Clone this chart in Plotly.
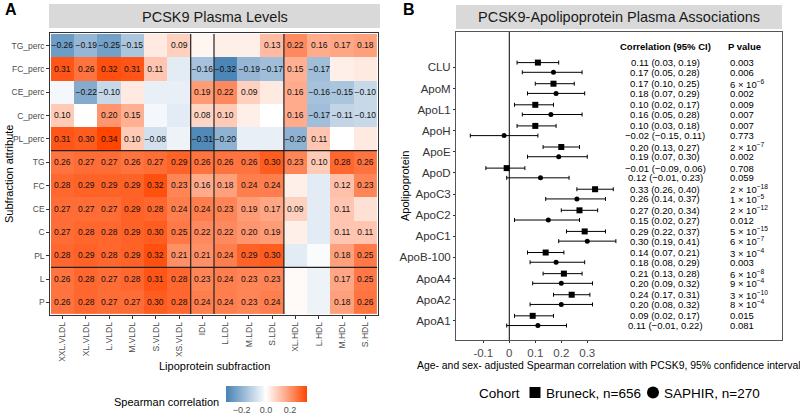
import plotly.graph_objects as go

W, H = 800, 415

# ---------------- Heatmap data ----------------
hm_cols = ["XXL.VLDL", "XL.VLDL", "L.VLDL", "M.VLDL", "S.VLDL", "XS.VLDL", "IDL",
           "L.LDL", "M.LDL", "S.LDL", "XL.HDL", "L.HDL", "M.HDL", "S.HDL"]
hm_rows = ["TG_perc", "FC_perc", "CE_perc", "C_perc", "PL_perc", "TG", "FC", "CE",
           "C", "PL", "L", "P"]
hm_vals = [
    [-0.26, -0.19, -0.25, -0.15, 0.04, 0.09, 0.02, 0.03, 0.03, 0.13, 0.22, 0.16, 0.17, 0.18],
    [0.31, 0.26, 0.32, 0.31, 0.11, -0.05, -0.16, -0.32, -0.19, -0.17, 0.15, -0.17, 0.03, 0.04],
    [-0.02, -0.22, -0.10, 0.04, -0.04, -0.04, 0.19, 0.22, 0.09, 0.04, 0.16, -0.16, -0.15, -0.10],
    [0.10, 0.00, 0.20, 0.15, -0.02, -0.05, 0.08, 0.10, 0.03, 0.00, 0.16, -0.17, -0.11, -0.10],
    [0.31, 0.30, 0.34, 0.10, -0.08, -0.03, -0.31, -0.20, -0.04, -0.04, -0.20, 0.11, 0.00, 0.04],
    [0.26, 0.27, 0.27, 0.26, 0.27, 0.29, 0.26, 0.26, 0.26, 0.30, 0.23, 0.10, 0.28, 0.26],
    [0.28, 0.29, 0.29, 0.29, 0.32, 0.23, 0.16, 0.18, 0.24, 0.24, 0.03, -0.05, 0.12, 0.23],
    [0.27, 0.27, 0.27, 0.29, 0.28, 0.24, 0.24, 0.23, 0.19, 0.17, 0.09, -0.05, 0.11, 0.06],
    [0.27, 0.28, 0.28, 0.29, 0.30, 0.25, 0.22, 0.22, 0.20, 0.19, 0.03, -0.05, 0.11, 0.11],
    [0.28, 0.29, 0.28, 0.29, 0.32, 0.21, 0.21, 0.24, 0.29, 0.30, -0.05, -0.01, 0.18, 0.25],
    [0.26, 0.28, 0.27, 0.28, 0.31, 0.28, 0.23, 0.24, 0.23, 0.23, 0.01, -0.03, 0.17, 0.25],
    [0.26, 0.28, 0.27, 0.27, 0.30, 0.28, 0.24, 0.24, 0.23, 0.24, 0.01, -0.03, 0.18, 0.26],
]
# 1 = value printed in the cell (significant), 0 = blank
hm_shown = [
    [1, 1, 1, 1, 0, 1, 0, 0, 0, 1, 1, 1, 1, 1],
    [1, 1, 1, 1, 1, 0, 1, 1, 1, 1, 1, 1, 0, 0],
    [0, 1, 1, 0, 0, 0, 1, 1, 1, 0, 1, 1, 1, 1],
    [1, 0, 1, 1, 0, 0, 1, 1, 0, 0, 1, 1, 1, 1],
    [1, 1, 1, 1, 1, 0, 1, 1, 0, 0, 1, 1, 0, 0],
    [1, 1, 1, 1, 1, 1, 1, 1, 1, 1, 1, 1, 1, 1],
    [1, 1, 1, 1, 1, 1, 1, 1, 1, 1, 0, 0, 1, 1],
    [1, 1, 1, 1, 1, 1, 1, 1, 1, 1, 1, 0, 1, 0],
    [1, 1, 1, 1, 1, 1, 1, 1, 1, 1, 0, 0, 1, 1],
    [1, 1, 1, 1, 1, 1, 1, 1, 1, 1, 0, 0, 1, 1],
    [1, 1, 1, 1, 1, 1, 1, 1, 1, 1, 0, 0, 1, 1],
    [1, 1, 1, 1, 1, 1, 1, 1, 1, 1, 0, 0, 1, 1],
]
cbar_ticks = [-0.2, 0.0, 0.2]
cbar_ticktext = ["−0.2", "0.0", "0.2"]

# ---------------- Forest data ----------------
proteins = ["CLU", "ApoM", "ApoL1", "ApoH", "ApoE", "ApoD", "ApoC3", "ApoC2",
            "ApoC1", "ApoB-100", "ApoA4", "ApoA2", "ApoA1"]
br_est = [0.11, 0.17, 0.10, 0.10, 0.20, -0.01, 0.33, 0.27, 0.29, 0.14, 0.21, 0.24, 0.09]
br_lo = [0.03, 0.10, 0.02, 0.03, 0.13, -0.09, 0.26, 0.20, 0.22, 0.07, 0.13, 0.17, 0.02]
br_hi = [0.19, 0.25, 0.17, 0.18, 0.27, 0.06, 0.40, 0.34, 0.37, 0.21, 0.28, 0.31, 0.17]
br_p = ["0.003", "6 × 10<sup>−6</sup>", "0.009", "0.007", "2 × 10<sup>−7</sup>", "0.708",
        "2 × 10<sup>−18</sup>", "2 × 10<sup>−12</sup>", "5 × 10<sup>−15</sup>",
        "3 × 10<sup>−4</sup>", "6 × 10<sup>−8</sup>", "3 × 10<sup>−10</sup>", "0.015"]
sa_est = [0.17, 0.18, 0.16, -0.02, 0.19, 0.12, 0.26, 0.15, 0.30, 0.18, 0.20, 0.20, 0.11]
sa_lo = [0.05, 0.07, 0.05, -0.15, 0.07, -0.01, 0.14, 0.02, 0.19, 0.08, 0.09, 0.08, -0.01]
sa_hi = [0.28, 0.29, 0.28, 0.11, 0.30, 0.23, 0.37, 0.27, 0.41, 0.29, 0.32, 0.32, 0.22]
sa_p = ["0.006", "0.002", "0.007", "0.773", "0.002", "0.059", "1 × 10<sup>−5</sup>", "0.012",
        "6 × 10<sup>−7</sup>", "0.003", "9 × 10<sup>−4</sup>", "8 × 10<sup>−4</sup>", "0.081"]
forest_ticks = [-0.1, 0, 0.1, 0.2, 0.3]
forest_ticktext = ["-0.1", "0", "0.1", "0.2", "0.3"]
cohorts = ["Bruneck, n=656", "SAPHIR, n=270"]


def fmt(v):
    s = f"{v:.2f}"
    return s.replace("-", "−")


FONT = "Liberation Sans, Arial, Helvetica, sans-serif"
GREY = "#4D4D4D"


def px(x):
    return x / W


def py(y):
    return 1 - y / H


fig = go.Figure()

# Heatmap
zmin, zmax = -0.33, 0.34
wpos = -zmin / (zmax - zmin)
colorscale = [
    [0.0, "#4682B4"],
    [wpos * 0.5, "#A3BFDA"],
    [wpos, "#FFFFFF"],
    [wpos + (1 - wpos) * 0.5, "#FFA685"],
    [1.0, "#FF4500"],
]
text = [[fmt(v) if s else "" for v, s in zip(r, m)] for r, m in zip(hm_vals, hm_shown)]
fig.add_trace(go.Heatmap(
    z=hm_vals, x=hm_cols, y=hm_rows, text=text, texttemplate="%{text}",
    textfont=dict(size=8.5, color="#111111", family=FONT),
    colorscale=colorscale, zmin=zmin, zmax=zmax, xaxis="x", yaxis="y",
    colorbar=dict(orientation="h", lenmode="pixels", len=81, thicknessmode="pixels",
                  thickness=16, x=px(266.5), xanchor="center", y=py(386),
                  yanchor="top", outlinewidth=0, ticks="", tickvals=cbar_ticks,
                  ticktext=cbar_ticktext, tickangle=0,
                  ticklabelposition="outside bottom", xpad=0, ypad=0,
                  tickfont=dict(size=9, color=GREY, family=FONT)),
    hoverinfo="skip",
))

# Forest plot
pos = [len(proteins) - i for i in range(len(proteins))]
off = 0.23
br_y = [p + off for p in pos]
sa_y = [p - off for p in pos]
fig.add_trace(go.Scatter(
    x=br_est, y=br_y, mode="markers", xaxis="x2", yaxis="y2", showlegend=False,
    marker=dict(symbol="square", size=6, color="black"),
    error_x=dict(type="data", symmetric=False,
                 array=[h - e for h, e in zip(br_hi, br_est)],
                 arrayminus=[e - l for e, l in zip(br_est, br_lo)],
                 color="black", thickness=1, width=2),
))
fig.add_trace(go.Scatter(
    x=sa_est, y=sa_y, mode="markers", xaxis="x2", yaxis="y2", showlegend=False,
    marker=dict(symbol="circle", size=5, color="black"),
    error_x=dict(type="data", symmetric=False,
                 array=[h - e for h, e in zip(sa_hi, sa_est)],
                 arrayminus=[e - l for e, l in zip(sa_est, sa_lo)],
                 color="black", thickness=1, width=2),
))

shapes = []
# separators in heatmap
for xv in [5.5, 6.5, 9.5]:
    shapes.append(dict(type="line", xref="x", yref="y", x0=xv, x1=xv, y0=-0.5, y1=11.5,
                       line=dict(color="#222222", width=1.2)))
for yv in [4.5, 9.5]:
    shapes.append(dict(type="line", xref="x", yref="y", x0=-0.5, x1=13.5, y0=yv, y1=yv,
                       line=dict(color="#222222", width=1.2)))
# zero line in forest
shapes.append(dict(type="line", xref="x2", yref="y2 domain", x0=0, x1=0, y0=0, y1=1,
                   line=dict(color="black", width=1)))
# strips
shapes.append(dict(type="rect", xref="paper", yref="paper", x0=px(49), x1=px(380),
                   y0=py(28), y1=py(4), fillcolor="#D9D9D9", line=dict(width=0), layer="below"))
shapes.append(dict(type="rect", xref="paper", yref="paper", x0=px(456), x1=px(782),
                   y0=py(29), y1=py(5), fillcolor="#D9D9D9", line=dict(width=0), layer="below"))
# legend keys
shapes.append(dict(type="rect", xref="paper", yref="paper", x0=px(529.5), x1=px(540.5),
                   y0=py(398), y1=py(387), fillcolor="black", line=dict(width=0)))
shapes.append(dict(type="circle", xref="paper", yref="paper", x0=px(647), x1=px(659),
                   y0=py(398.5), y1=py(386.5), fillcolor="black", line=dict(width=0)))


def note(text, x, y, size, color="black", xanchor="center", angle=0, xref="paper", yref="paper"):
    return dict(text=text, x=x, y=y, xref=xref, yref=yref, xanchor=xanchor, yanchor="middle",
                textangle=angle, showarrow=False, font=dict(size=size, color=color, family=FONT))


ann = []
ann.append(note("<b>A</b>", px(3), py(9), 16, xanchor="left"))
ann.append(note("<b>B</b>", px(401), py(9), 16, xanchor="left"))
ann.append(note("PCSK9 Plasma Levels", px(214.5), py(16.5), 14.5, "#1A1A1A"))
ann.append(note("PCSK9-Apolipoprotein Plasma Associations", px(619), py(17), 14.5, "#1A1A1A"))
ann.append(note("Subfraction attribute", px(9), py(174), 11, angle=-90))
ann.append(note("Lipoprotein subfraction", px(214.5), py(366), 11))
ann.append(note("Spearman correlation", px(221), py(402), 11, xanchor="right"))
ann.append(note("Apolipoprotein", px(405), py(186), 11, angle=-90))
ann.append(note("Age- and sex- adjusted Spearman correlation with PCSK9, 95% confidence interval",
                px(608.5), py(365), 10.4))
ann.append(note("Cohort", px(477), py(393), 13.5, xanchor="left"))
ann.append(note(cohorts[0], px(544), py(393), 13.5, xanchor="left"))
ann.append(note(cohorts[1], px(662), py(393), 13.5, xanchor="left"))
# forest table
top_y = pos[0] + 1.0
ann.append(note("<b>Correlation (95% CI)</b>", 0.6, top_y, 9.5, xref="x2", yref="y2"))
ann.append(note("<b>P value</b>", 0.835, top_y, 9.5, xanchor="left", xref="x2", yref="y2"))
for i in range(len(proteins)):
    for yy, e, lo, hi, p in [(br_y[i], br_est[i], br_lo[i], br_hi[i], br_p[i]),
                             (sa_y[i], sa_est[i], sa_lo[i], sa_hi[i], sa_p[i])]:
        ann.append(note(f"{fmt(e)} ({fmt(lo)}, {fmt(hi)})", 0.6, yy, 9.5, xref="x2", yref="y2"))
        ann.append(note(p, 0.84, yy, 9.5, xanchor="left", xref="x2", yref="y2"))

fig.update_layout(
    width=W, height=H, margin=dict(l=0, r=0, t=0, b=0, autoexpand=False),
    paper_bgcolor="white", plot_bgcolor="white", showlegend=False,
    font=dict(family=FONT, color=GREY),
    shapes=shapes, annotations=ann,
    xaxis=dict(domain=[px(50.3), px(377.7)], anchor="y", tickangle=-90,
               tickfont=dict(size=8.5, color=GREY), ticks="outside", ticklen=3, tickcolor="#333",
               showline=True, mirror=True, linecolor="#333333", linewidth=1, showgrid=False,
               automargin=False),
    yaxis=dict(domain=[py(314.7), py(33.3)], anchor="x", autorange="reversed",
               tickfont=dict(size=8.5, color=GREY), ticks="outside", ticklen=3, tickcolor="#333",
               showline=True, mirror=True, linecolor="#333333", linewidth=1, showgrid=False,
               automargin=False),
    xaxis2=dict(domain=[px(456), px(782)], anchor="y2", range=[-0.205, 1.049],
                tickvals=forest_ticks, ticktext=forest_ticktext,
                tickfont=dict(size=11.5, color=GREY), ticks="outside", ticklen=2, tickcolor="#333",
                showline=True, mirror=True, linecolor="#555555", linewidth=1, showgrid=False,
                zeroline=False, automargin=False),
    yaxis2=dict(domain=[py(340), py(32)], anchor="x2", range=[0.085, 14.68],
                tickvals=pos, ticktext=proteins, tickfont=dict(size=11.5, color="#333333"),
                ticks="outside", ticklen=2, tickcolor="#333",
                showline=True, mirror=True, linecolor="#555555", linewidth=1, showgrid=False,
                zeroline=False, automargin=False),
)

fig.write_html("out.html", config={"displayModeBar": False},
               post_script="document.body.style.margin='0';document.body.style.padding='0';")
